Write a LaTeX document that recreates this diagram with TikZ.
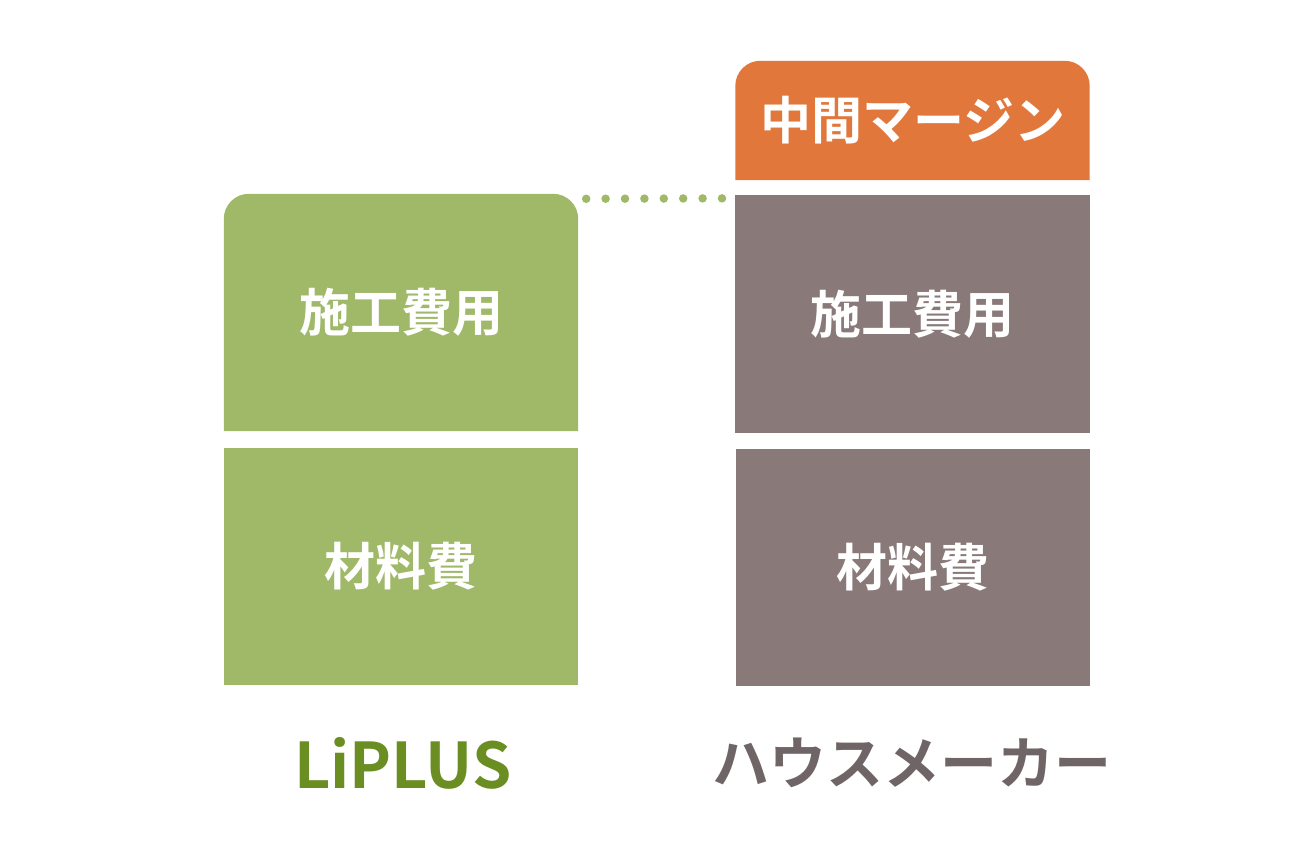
\documentclass[tikz,border=0pt]{standalone}
\usepackage{fontspec}
\usepackage{tikz}
\usetikzlibrary{backgrounds}
\newfontfamily\jp{Noto Sans CJK JP}[BoldFont={Noto Sans CJK JP Bold}]
\definecolor{boxgreen}{HTML}{A0B969}
\definecolor{boxgray}{HTML}{897979}
\definecolor{boxorange}{HTML}{E2773B}
\definecolor{labgreen}{HTML}{6B8E23}
\definecolor{labgray}{HTML}{6F6566}

\begin{document}
\begin{tikzpicture}[x=1pt,y=-1pt]
            \tikzstyle{cell}=[rectangle,inner sep=0,minimum width=354pt,minimum height=237pt,text=white,font=\jp\bfseries\fontsize{51}{60}\selectfont];
            \tikzstyle{lab}=[inner sep=0,font=\jp\bfseries\fontsize{57}{66}\selectfont];
            \useasboundingbox (0,0) rectangle (1300,846);
            \node[cell] (lcost) at (401,312.5) {施工費用};
            \node[cell,fill=boxgreen] (lmat) at (401,566.5) {材料費};
            \node[cell] (rcost) at (912.5,314) {施工費用};
            \node[cell,fill=boxgray] (rmat) at (912.5,567.5) {材料費};
            \node[cell,minimum height=119pt] (margin) at (912.5,120.5) {中間マージン};
            \begin{pgfonlayer}{background}
            \fill[boxgreen] (lcost.south west) -- ([yshift=-25pt]lcost.north west) arc[start angle=180,end angle=90,radius=25pt] -- ([xshift=-25pt]lcost.north east) arc[start angle=90,end angle=0,radius=25pt] -- (lcost.south east) -- cycle;
            \fill[boxgray] (rcost.south west) rectangle (rcost.north east);
            \fill[boxorange] (margin.south west) -- ([yshift=-25pt]margin.north west) arc[start angle=180,end angle=90,radius=25pt] -- ([xshift=-25pt]margin.north east) arc[start angle=90,end angle=0,radius=25pt] -- (margin.south east) -- cycle;
            \end{pgfonlayer}
            \coordinate (dotl) at ([xshift=8pt,yshift=-5pt]lcost.north east);
            \coordinate (dotr) at ([xshift=-4pt,yshift=-3pt]rcost.north west);
            \draw[boxgreen,line width=8.5pt,line cap=round,dash pattern=on 0pt off 19.4pt] (dotl)--(dotr);
            \node[lab,text=labgreen,font=\jp\bfseries\fontsize{63}{72}\selectfont] (liplus) at (403,763) {LiPLUS};
            \node[lab,text=labgray] (maker) at (912,763) {ハウスメーカー};
\end{tikzpicture}
\end{document}
